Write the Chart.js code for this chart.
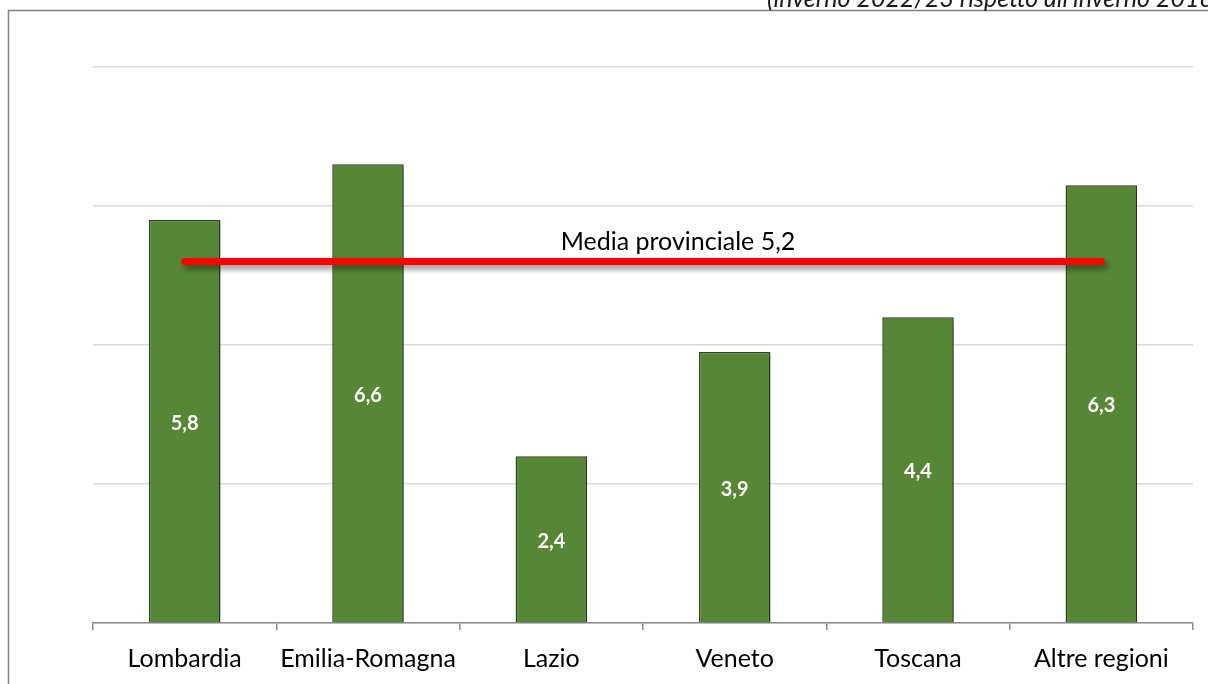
<!DOCTYPE html>
<html>
<head>
<meta charset="utf-8">
<script src="https://cdn.jsdelivr.net/npm/chart.js@4"></script>
<style>
  html, body { margin:0; padding:0; background:#fff; }
  #wrap { position:relative; width:1208px; height:684px; overflow:hidden; }
  canvas { display:block; }
</style>
</head>
<body>
<div id="wrap"><canvas id="chart" width="1208" height="684"></canvas></div>
<script>
// data
const regioni = ["Lombardia", "Emilia-Romagna", "Lazio", "Veneto", "Toscana", "Altre regioni"];
const valori = [5.8, 6.6, 2.4, 3.9, 4.4, 6.3];
const mediaProvinciale = 5.2;
const mediaLinea = regioni.map(() => mediaProvinciale);
const titolo = "(inverno 2022/23 rispetto all'inverno 2018/19)";
const etichettaMedia = "Media provinciale 5,2";

const fmt = v => v.toFixed(1).replace(".", ",");

// frame, title, shadows and value labels
const decor = {
  id: "decor",
  beforeDraw(chart) {
    const c = chart.ctx;
    c.save();
    c.strokeStyle = "#808080";
    c.lineWidth = 1.5;
    c.beginPath();
    c.moveTo(8.5, 684);
    c.lineTo(8.5, 10.5);
    c.lineTo(1208, 10.5);
    c.stroke();
    c.fillStyle = "#1a1a1a";
    c.font = "italic 25px Lato, 'Open Sans', sans-serif";
    c.textBaseline = "alphabetic";
    c.fillText(titolo, 767, 7);
    c.restore();
  },
  beforeDatasetDraw(chart, args) {
    const c = chart.ctx;
    c.save();
    if (args.index === 0) {
      c.shadowColor = "rgba(0,0,0,0.35)";
      c.shadowBlur = 4;
      c.shadowOffsetX = 2;
      c.shadowOffsetY = 2;
    } else {
      c.shadowColor = "rgba(0,0,0,0.45)";
      c.shadowBlur = 6;
      c.shadowOffsetX = 3;
      c.shadowOffsetY = 4;
    }
  },
  afterDatasetDraw(chart, args) {
    const c = chart.ctx;
    c.restore();
    if (args.index === 0) {
      c.save();
      c.fillStyle = "#fff";
      c.font = "bold 20px Lato, 'Open Sans', sans-serif";
      c.textAlign = "center";
      c.textBaseline = "middle";
      chart.getDatasetMeta(0).data.forEach((bar, i) => {
        c.fillText(fmt(valori[i]), bar.x, (bar.y + bar.base) / 2 + 2);
      });
      c.restore();
    } else {
      const y = chart.scales.y.getPixelForValue(mediaProvinciale);
      c.save();
      c.fillStyle = "#000";
      c.font = "25px Lato, 'Open Sans', sans-serif";
      c.textAlign = "center";
      c.textBaseline = "middle";
      c.fillText(etichettaMedia, 678, y - 20);
      c.restore();
    }
  }
};

new Chart(document.getElementById("chart"), {
  data: {
    labels: regioni,
    datasets: [
      {
        type: "bar",
        data: valori,
        backgroundColor: "#568737",
        borderColor: "#2e4a1c",
        borderWidth: 1.5,
        categoryPercentage: 1,
        barPercentage: 0.39,
        order: 2
      },
      {
        type: "line",
        data: mediaLinea,
        borderColor: "#ff0000",
        borderWidth: 7,
        borderCapStyle: "round",
        pointRadius: 0,
        pointHoverRadius: 0,
        order: 1
      }
    ]
  },
  options: {
    responsive: false,
    animation: false,
    layout: { padding: { top: 67, left: 93, right: 15, bottom: 0 } },
    plugins: { legend: { display: false }, tooltip: { enabled: false } },
    scales: {
      x: {
        grid: { display: true, drawOnChartArea: false, drawTicks: true, tickLength: 7, color: "#8c8c8c", lineWidth: 1.5, offset: true },
        border: { color: "#8c8c8c", width: 1.5 },
        ticks: { color: "#000", font: { family: "Lato, 'Open Sans', sans-serif", size: 25 }, padding: 14, maxRotation: 0, autoSkip: false },
        afterFit(s) { s.height = 61; }
      },
      y: {
        min: 0,
        max: 8,
        ticks: { display: false, stepSize: 2 },
        grid: { color: "#d9d9d9", lineWidth: 1.5, drawTicks: false },
        border: { display: false }
      }
    }
  },
  plugins: [decor]
});
</script>
</body>
</html>
